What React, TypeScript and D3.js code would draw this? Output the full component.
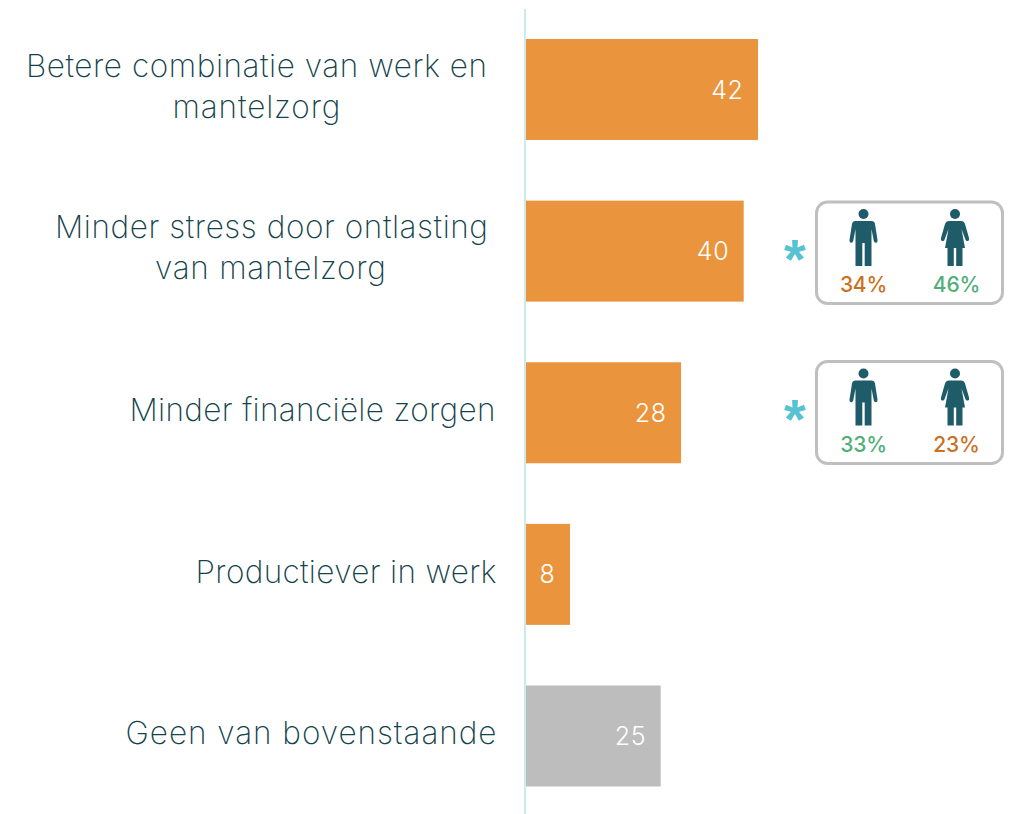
import React from "react";
import * as d3 from "d3";

const categories = ["Betere combinatie van werk en|mantelzorg", "Minder stress door ontlasting|van mantelzorg", "Minder financiële zorgen", "Productiever in werk", "Geen van bovenstaande"];
const values = [42.2, 39.6, 28.2, 8, 24.5];
const barColors = ["#ea953d", "#ea953d", "#ea953d", "#ea953d", "#bdbdbd"];
const menShares = [null, "34%", "33%", null, null];
const womenShares = [null, "46%", "23%", null, null];
const menColors = [null, "#cc6f1f", "#52ae78", null, null];
const womenColors = [null, "#52ae78", "#cc6f1f", null, null];

const INK = "#14434c";
const ICON = "#1d5c68";
const FONT = "Inter, 'Noto Sans', sans-serif";

const x = d3.scaleLinear().domain([0, 42.2]).range([526, 758]);
const y = d3.scaleBand<number>().domain(d3.range(categories.length)).range([39, 786.5]).paddingInner(0.375);

// Typeset widths of the label lines in the reference, so the substitute font occupies the same space.
const lineWidth: Record<string, number> = {
  "Betere combinatie van werk en": 461,
  mantelzorg: 168,
  "Minder stress door ontlasting": 433,
  "van mantelzorg": 231,
  "Minder financiële zorgen": 366,
  "Productiever in werk": 301,
  "Geen van bovenstaande": 371,
};

const labelRight = (i: number) => (i === 2 ? 495.5 : 496.5);
const labelCentre = (i: number, line: number) => (i === 0 ? 256.5 : line === 0 ? 271.5 : 270.5);
const boxTop = (i: number) => (i === 1 ? 202 : 361.5);

function Man({ cx, top }: { cx: number; top: number }) {
  return (
    <g transform={`translate(${cx},${top})`} fill={ICON}>
      <circle cx={0} cy={5} r={5} />
      <path d="M-8,12 H8 Q11,12 11.5,15 L14,31 Q14.3,33.5 12.5,33.8 Q10.8,34 10.3,32 L8,20 V57 H1.2 V34 H-1.2 V57 H-8 V20 L-10.3,32 Q-10.8,34 -12.5,33.8 Q-14.3,33.5 -14,31 L-11.5,15 Q-11,12 -8,12 Z" />
    </g>
  );
}

function Woman({ cx, top }: { cx: number; top: number }) {
  return (
    <g transform={`translate(${cx},${top})`} fill={ICON}>
      <circle cx={0} cy={5} r={5} />
      <path d="M-6,12 H6 Q9,12 10,15 L14,29 Q14.6,31.5 12.8,32 Q11,32.5 10.4,30.5 L6.5,20 L10,39 H7.5 V57 H1.2 V39 H-1.2 V57 H-7.5 V39 H-10 L-6.5,20 L-10.4,30.5 Q-11,32.5 -12.8,32 Q-14.6,31.5 -14,29 L-10,15 Q-9,12 -6,12 Z" />
    </g>
  );
}

export default function App() {
  return (
    <svg width={1018} height={814} style={{ position: "absolute", left: 0, top: 0, background: "#fff" }} fontFamily={FONT}>
      <line x1={525} x2={525} y1={9} y2={814} stroke="#cde9ee" strokeWidth={2} />
      {categories.map((c, i) => {
        const by = y(i)!;
        const bh = y.bandwidth();
        const mid = by + bh / 2;
        const lines = c.split("|");
        const w = x(values[i]) - x(0);
        const bt = boxTop(i);
        return (
          <g key={i}>
            <rect x={x(0)} y={by} width={w} height={bh} fill={barColors[i]} />
            <text x={x(values[i]) - 14.5} y={mid + 9} textAnchor="end" fontSize={25} fontWeight={300} letterSpacing={0.6} fill="#fff">
              {Math.round(values[i])}
            </text>
            {lines.length === 2 ? (
              <g fontSize={31.5} fontWeight={200} fill={INK}>
                <text x={labelCentre(i, 0)} y={mid - 13} textAnchor="middle" textLength={lineWidth[lines[0]]}>{lines[0]}</text>
                <text x={labelCentre(i, 1)} y={mid + 28} textAnchor="middle" textLength={lineWidth[lines[1]]}>{lines[1]}</text>
              </g>
            ) : (
              <text x={labelRight(i)} y={mid + 8.5} textAnchor="end" fontSize={31.5} fontWeight={200} fill={INK} textLength={lineWidth[lines[0]]}>{lines[0]}</text>
            )}
            {menShares[i] && (
              <g>
                <text x={795} y={bt + 76} textAnchor="middle" fontSize={56} fontWeight={700} fill="#55c3d3" fontFamily="'Liberation Sans', sans-serif">*</text>
                <rect x={816.5} y={bt} width={186} height={i === 1 ? 101.5 : 102} rx={11} fill="#fff" stroke="#bfbfbf" strokeWidth={3} />
                <Man cx={863.5} top={bt + 7} />
                <Woman cx={955} top={bt + 7} />
                <text x={863.5} y={bt + 90} textAnchor="middle" fontSize={21} fontWeight={500} letterSpacing={-0.2} fill={menColors[i]!}>{menShares[i]}</text>
                <text x={956.5} y={bt + 90} textAnchor="middle" fontSize={21} fontWeight={500} letterSpacing={-0.2} fill={womenColors[i]!}>{womenShares[i]}</text>
              </g>
            )}
          </g>
        );
      })}
    </svg>
  );
}
